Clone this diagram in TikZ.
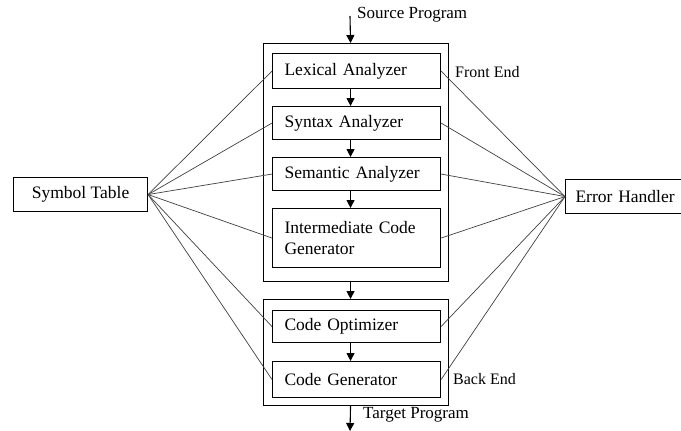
\documentclass[tikz,border=0pt]{standalone}
\usepackage{fontspec}
\setmainfont{Liberation Serif}
\usetikzlibrary{arrows.meta}
\begin{document}
\begin{tikzpicture}[x=1pt,y=-1pt,
  box/.style={draw, line width=1.1pt, anchor=north west, inner xsep=12pt, inner ysep=0pt,
    text width=144pt, align=left, font=\fontsize{17.5}{21}\selectfont},
  outer/.style={draw, line width=1.1pt, anchor=north west, inner sep=0pt, minimum width=185pt},
  side/.style={draw, line width=1.1pt, inner sep=0pt, minimum height=34pt, font=\fontsize{17.5}{21}\selectfont},
  lbl/.style={anchor=west, inner sep=0pt, font=\fontsize{17}{20}\selectfont},
  conn/.style={draw=black!75, line width=0.7pt},
  arr/.style={line width=1.1pt, -{Triangle[length=8pt,width=8pt]}}]
\useasboundingbox (0,0) rectangle (681,431);
\clip (0,0) rectangle (681,431);
% outer boxes
\node[outer, minimum height=238pt] (front) at (263,43) {};
\node[outer, minimum height=106pt] (back) at (263,299) {};
% inner boxes
\node[box, minimum height=35pt] (lex) at (272,53) {Lexical Analyzer};
\node[box, minimum height=33pt] (syn) at (272,106) {Syntax Analyzer};
\node[box, minimum height=33pt] (sem) at (272,157) {Semantic Analyzer};
\node[box, minimum height=59pt] (icg) at (272,208) {Intermediate Code\\Generator};
\node[box, minimum height=32pt] (opt) at (272,310) {Code Optimizer};
\node[box, minimum height=36pt] (gen) at (272,361) {Code Generator};
% side boxes
\node[side, minimum width=134pt, anchor=north west] (sym) at (13,177) {Symbol Table};
\node[side, minimum width=130pt, anchor=north west, text width=110pt, align=left] (err) at (565,179) {Error Handler};
% labels
\node[lbl] (srclbl) at (357,15) {Source Program};
\node[lbl] (tgtlbl) at (363,415) {Target Program};
\node[lbl, font=\fontsize{16}{19}\selectfont] (fe) at (455,72) {Front End};
\node[lbl, font=\fontsize{16}{19}\selectfont] (be) at (453,379) {Back End};
% arrows
\coordinate (src) at (350,16);
\coordinate (tgt) at (350,431);
\draw[arr] (src) -- ([xshift=-5.5pt]front.north);
\draw[arr] ([xshift=-6pt]lex.south) -- ([xshift=-6pt]syn.north);
\draw[arr] ([xshift=-6pt]syn.south) -- ([xshift=-6pt]sem.north);
\draw[arr] ([xshift=-6pt]sem.south) -- ([xshift=-6pt]icg.north);
\draw[arr] ([xshift=-5.5pt]front.south) -- ([xshift=-5.5pt]back.north);
\draw[arr] ([xshift=-6pt]opt.south) -- ([xshift=-6pt]gen.north);
\draw[arr] ([xshift=-5.5pt]back.south) -- (tgt);
% connectors
\foreach \n in {lex,syn,sem,icg,opt,gen}{
  \draw[conn] (sym.east) -- (\n.west);
  \draw[conn] (err.west) -- (\n.east);
}
\end{tikzpicture}
\end{document}
